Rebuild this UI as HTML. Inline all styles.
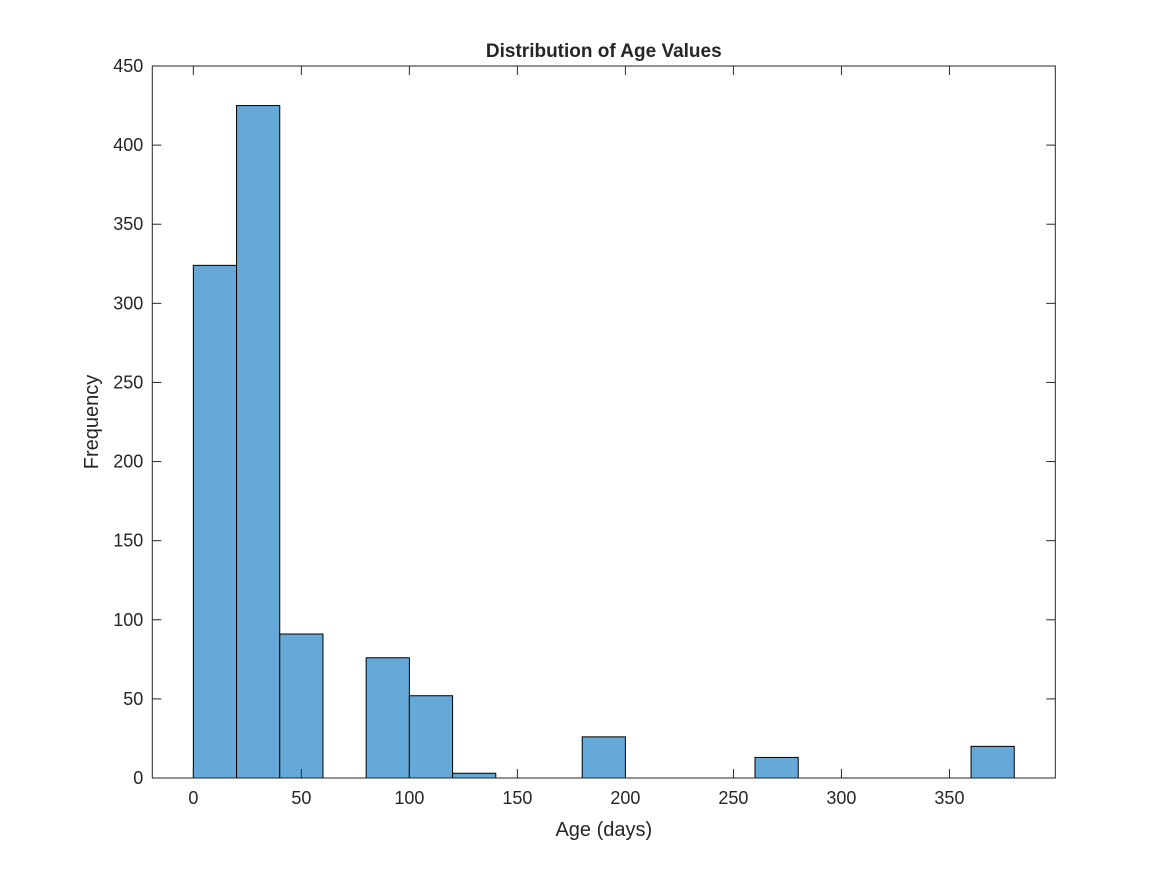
<!DOCTYPE html>
<html><head><meta charset="utf-8"><style>
body{margin:0;background:#fff}
svg{display:block}
text{font-family:"Liberation Sans",sans-serif;fill:#262626}
</style></head><body>
<svg width="1167" height="875">
<rect width="1167" height="875" fill="#fff"/>
<g id="plot"></g>
</svg>
<script>
const binEdges=[0,20,40,60,80,100,120,140,160,180,200,220,240,260,280,300,320,340,360,380];
const counts=[324,425,91,0,76,52,3,0,0,26,0,0,0,13,0,0,0,0,20];
const xTicks=[0,50,100,150,200,250,300,350];
const yTicks=[0,50,100,150,200,250,300,350,400,450];
const L=152.3,R=1055.3,T=66,B=778;
const xmin=-19,xmax=399,ymin=0,ymax=450;
const X=v=>L+(v-xmin)/(xmax-xmin)*(R-L);
const Y=v=>B-(v-ymin)/(ymax-ymin)*(B-T);
const g=document.getElementById('plot');
const NS='http://www.w3.org/2000/svg';
function mk(t,a){const e=document.createElementNS(NS,t);for(const k in a)e.setAttribute(k,a[k]);g.appendChild(e);return e;}
const bg=mk('rect',{x:L,y:T,width:R-L,height:B-T,fill:'#fff'});


counts.forEach((c,i)=>{if(c<=0)return;
const r=mk('rect',{x:X(binEdges[i]),y:Y(c),width:X(binEdges[i+1])-X(binEdges[i]),height:B-Y(c),fill:'#64a9d8',stroke:'#000','stroke-width':1});

});
xTicks.forEach(v=>{const x=X(v);
mk('line',{x1:x,y1:B,x2:x,y2:B-9,stroke:'#262626'});
mk('line',{x1:x,y1:T,x2:x,y2:T+9,stroke:'#262626'});
const t=mk('text',{x:x,y:B+26,'text-anchor':'middle','font-size':18});t.textContent=v;

});
yTicks.forEach(v=>{const y=Y(v);
mk('line',{x1:L,y1:y,x2:L+9,y2:y,stroke:'#262626'});
mk('line',{x1:R,y1:y,x2:R-9,y2:y,stroke:'#262626'});
const t=mk('text',{x:L-9,y:y+6,'text-anchor':'end','font-size':18});t.textContent=v;

});
const box=mk('rect',{x:L,y:T,width:R-L,height:B-T,fill:'none',stroke:'#262626','stroke-width':1});


const ti=mk('text',{x:(L+R)/2,y:57,'text-anchor':'middle','font-size':19,'font-weight':'bold'});ti.textContent='Distribution of Age Values';


const xl=mk('text',{x:(L+R)/2,y:836,'text-anchor':'middle','font-size':20});xl.textContent='Age (days)';


const yl=mk('text',{x:0,y:0,'text-anchor':'middle','font-size':20,transform:'translate(98,422) rotate(-90)'});yl.textContent='Frequency';


</script>
</body></html>
